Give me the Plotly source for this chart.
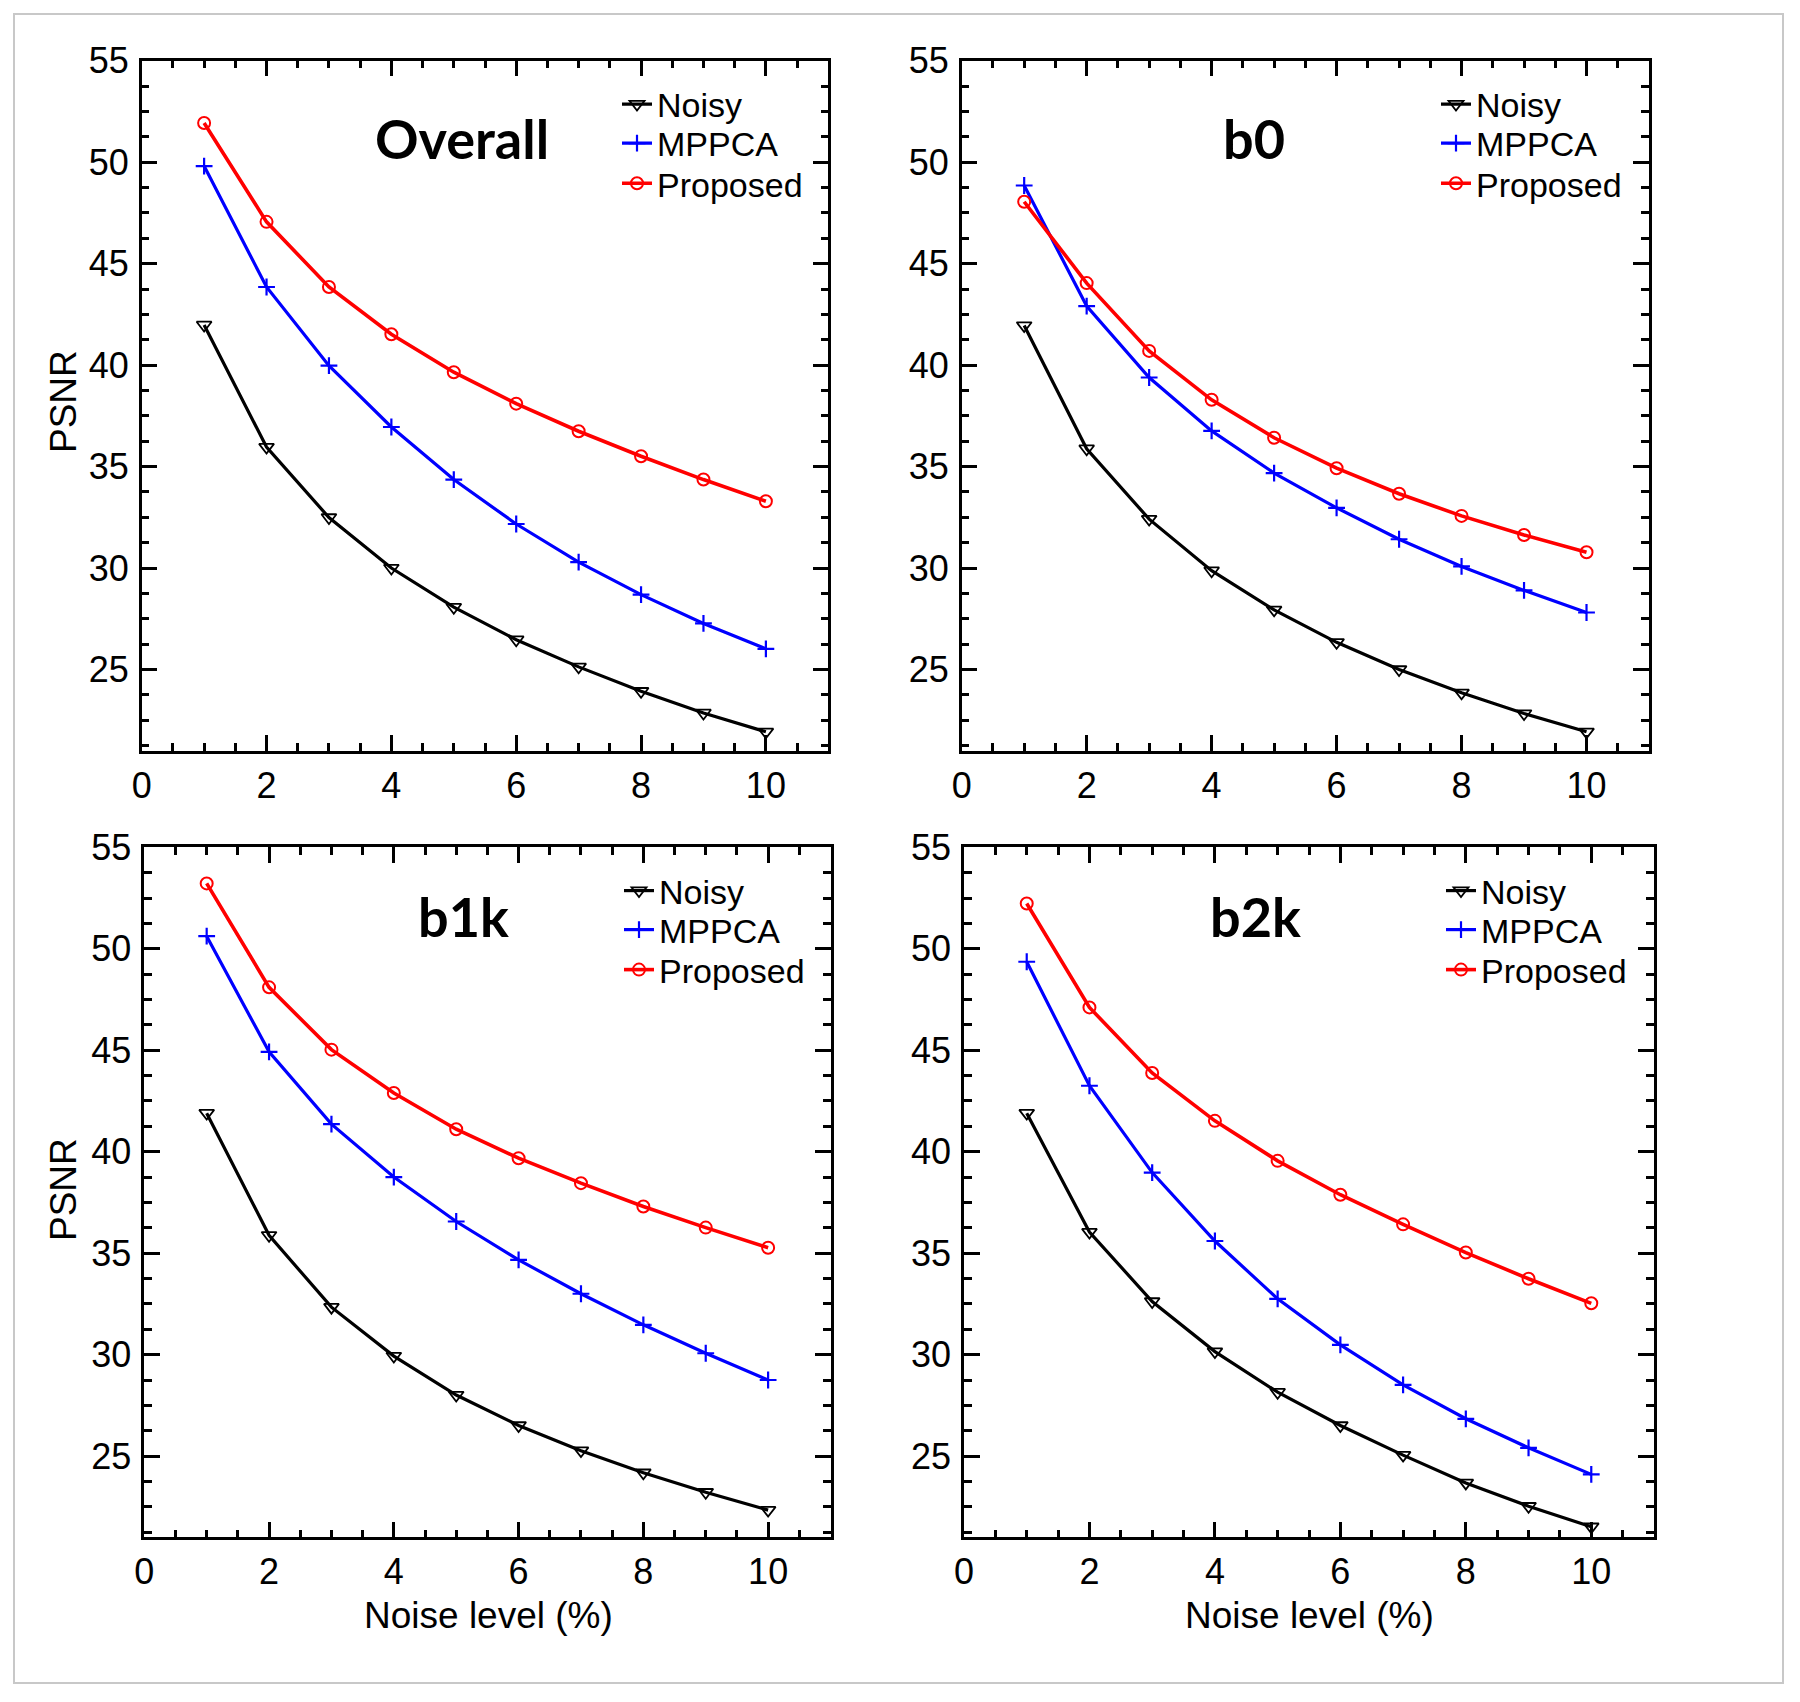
import plotly.graph_objects as go

W, H = 1800, 1702

noise_level = [1, 2, 3, 4, 5, 6, 7, 8, 9, 10]
series_names = ["Noisy", "MPPCA", "Proposed"]
panel_names = ["Overall", "b0", "b1k", "b2k"]

overall_noisy = [41.98, 35.96, 32.49, 30.0, 28.07, 26.47, 25.13, 23.93, 22.86, 21.93]
overall_mppca = [49.81, 43.85, 39.97, 36.95, 34.36, 32.17, 30.29, 28.69, 27.27, 26.02]
overall_proposed = [51.93, 47.06, 43.85, 41.52, 39.65, 38.1, 36.74, 35.51, 34.36, 33.29]

b0_noisy = [41.95, 35.88, 32.41, 29.87, 27.94, 26.34, 25.0, 23.85, 22.83, 21.93]
b0_mppca = [48.85, 42.91, 39.39, 36.76, 34.68, 32.97, 31.42, 30.08, 28.9, 27.81]
b0_proposed = [48.05, 44.04, 40.7, 38.29, 36.42, 34.92, 33.66, 32.57, 31.63, 30.78]

b1k_noisy = [41.9, 35.88, 32.34, 29.93, 28.01, 26.51, 25.27, 24.18, 23.22, 22.34]
b1k_mppca = [50.62, 44.92, 41.36, 38.75, 36.56, 34.67, 33.0, 31.47, 30.07, 28.75]
b1k_proposed = [53.22, 48.1, 45.03, 42.89, 41.11, 39.68, 38.45, 37.3, 36.26, 35.27]

b2k_noisy = [41.9, 36.04, 32.62, 30.15, 28.15, 26.51, 25.05, 23.68, 22.53, 21.52]
b2k_mppca = [49.36, 43.25, 38.97, 35.6, 32.75, 30.48, 28.51, 26.84, 25.41, 24.1]
b2k_proposed = [52.23, 47.11, 43.88, 41.52, 39.55, 37.88, 36.42, 35.03, 33.74, 32.53]

x_tickvals = [0, 2, 4, 6, 8, 10]
y_tickvals = [25, 30, 35, 40, 45, 50, 55]
x_title = "Noise level (%)"
y_title = "PSNR"

panel_data = [
    [overall_noisy, overall_mppca, overall_proposed],
    [b0_noisy, b0_mppca, b0_proposed],
    [b1k_noisy, b1k_mppca, b1k_proposed],
    [b2k_noisy, b2k_mppca, b2k_proposed],
]

# ---- layout (pixel boxes: left, top, right, bottom) ----
boxes = [
    (141.7, 60.7, 828.3, 750.7),
    (961.7, 60.7, 1649.0, 750.7),
    (144.3, 847.3, 830.5, 1537.3),
    (964.0, 847.3, 1654.0, 1537.3),
]
styles = [
    dict(color="#000000", symbol="triangle-down-open", size=13, lw=3.2, mlw=1.8),
    dict(color="#0000ff", symbol="cross-thin", size=12, lw=3.2, mlw=2.2),
    dict(color="#ff0000", symbol="circle-open", size=12, lw=3.6, mlw=2),
]
FONT = "Liberation Sans, Arial, sans-serif"

def px(x):
    return x / W

def py(y):
    return 1 - y / H

# legend text start x and row centers y (pixels) per panel
legend_text_x = [657, 1476, 659, 1481]
legend_rows_y = [[104.5, 143.5, 183.7], [104.5, 143.5, 183.7],
                 [891, 930, 970], [891, 930, 970]]

fig = go.Figure()
layout = dict(
    width=W, height=H, paper_bgcolor="white", plot_bgcolor="white",
    margin=dict(l=0, r=0, t=0, b=0, autoexpand=False), showlegend=True,
)

k = 0
for i, vals in enumerate(panel_data):
    xa = "x" if i == 0 else f"x{i+1}"
    ya = "y" if i == 0 else f"y{i+1}"
    for j, (name, v, st) in enumerate(zip(series_names, vals, styles)):
        lid = "legend" if k == 0 else f"legend{k+1}"
        fig.add_trace(go.Scatter(
            x=noise_level, y=v, name=name, mode="lines+markers",
            xaxis=xa, yaxis=ya, legend=lid,
            line=dict(color=st["color"], width=st["lw"]),
            marker=dict(symbol=st["symbol"], size=st["size"], color=st["color"],
                        line=dict(color=st["color"], width=st["mlw"])),
        ))
        layout[lid] = dict(x=px(legend_text_x[i] - 40), y=py(legend_rows_y[i][j]),
                           xanchor="left", yanchor="middle",
                           bgcolor="rgba(0,0,0,0)", borderwidth=0,
                           font=dict(family=FONT, size=34, color="black"), itemwidth=30)
        k += 1

axis_common = dict(
    showline=True, linecolor="black", linewidth=2.5, mirror="allticks",
    ticks="inside", ticklen=16, tickwidth=2.5, tickcolor="black",
    showgrid=False, zeroline=False,
    tickfont=dict(family=FONT, size=36, color="black"),
)

for i, box in enumerate(boxes):
    l, t, r, b = box
    xk = "xaxis" if i == 0 else f"xaxis{i+1}"
    yk = "yaxis" if i == 0 else f"yaxis{i+1}"
    yname = "y" if i == 0 else f"y{i+1}"
    xname = "x" if i == 0 else f"x{i+1}"
    layout[xk] = dict(axis_common, domain=[px(l), px(r)], range=[0, 11], anchor=yname,
                      tickvals=x_tickvals, ticklabelstandoff=1,
                      minor=dict(dtick=0.5, tick0=0, ticks="inside", ticklen=8,
                                 tickwidth=2.5, tickcolor="black", showgrid=False))
    layout[yk] = dict(axis_common, domain=[py(b), py(t)], range=[21, 55], anchor=xname,
                      tickvals=y_tickvals, ticklabelstandoff=3,
                      minor=dict(dtick=1.25, tick0=0, ticks="inside", ticklen=8,
                                 tickwidth=2.5, tickcolor="black", showgrid=False))

fig.update_layout(**layout)

label_pos = [(462, 139), (1254, 139), (463, 916), (1255, 916)]
for name, (lx, ly) in zip(panel_names, label_pos):
    fig.add_annotation(x=px(lx), y=py(ly), xref="paper", yref="paper", text=f"<b>{name}</b>",
                       showarrow=False, xanchor="center", yanchor="middle",
                       font=dict(family="Lato, sans-serif", size=54, color="black"))

for (lx, ly) in [(63, 402), (63, 1190)]:
    fig.add_annotation(x=px(lx), y=py(ly), xref="paper", yref="paper", text=y_title,
                       textangle=-90, showarrow=False, xanchor="center", yanchor="middle",
                       font=dict(family=FONT, size=37, color="black"))
for (lx, ly) in [(488, 1615), (1309, 1615)]:
    fig.add_annotation(x=px(lx), y=py(ly), xref="paper", yref="paper", text=x_title,
                       showarrow=False, xanchor="center", yanchor="middle",
                       font=dict(family=FONT, size=37, color="black"))

fig.add_shape(type="rect", xref="paper", yref="paper", x0=px(14), y0=py(1683),
              x1=px(1783), y1=py(14), line=dict(color="#c8c8c8", width=2))

fig.write_html("out.html", config={"displayModeBar": False},
               post_script="document.body.style.margin='0';document.body.style.overflow='hidden';")
